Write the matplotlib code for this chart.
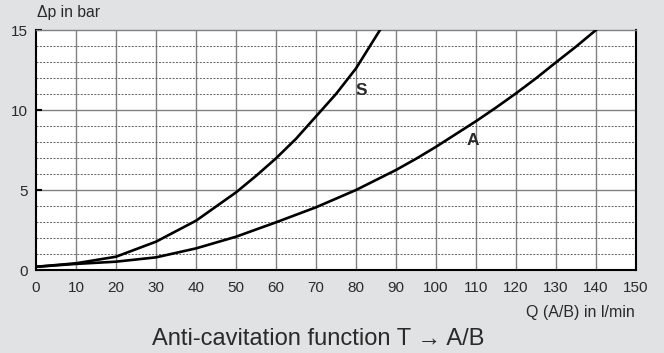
import numpy as np
import matplotlib.pyplot as plt

plt.rcParams['font.family'] = ['Liberation Sans', 'DejaVu Sans']

q_s = [0, 10, 20, 30, 40, 50, 55, 60, 65, 70, 75, 80, 83, 86]
p_s = [0.2, 0.42, 0.83, 1.77, 3.08, 4.85, 5.88, 6.98, 8.2, 9.6, 11.0, 12.6, 13.8, 15.0]
q_a = [0, 10, 20, 30, 40, 50, 60, 70, 80, 90, 95, 100, 105, 110, 115, 120, 125, 130, 135, 140]
p_a = [0.2, 0.38, 0.52, 0.79, 1.35, 2.08, 2.98, 3.92, 5.0, 6.25, 6.95, 7.7, 8.5, 9.3,
       10.15, 11.04, 11.98, 12.98, 13.96, 15.0]

x_ticks = list(range(0, 151, 10))
y_ticks = [0, 5, 10, 15]

bg = '#e1e2e4'
txt = '#2a2a2a'
fig = plt.figure(figsize=(6.64, 3.53), dpi=100, facecolor=bg)
ax = fig.add_axes([36/664, 83/353, 600/664, 240/353])
ax.set_facecolor('white')

ax.set_xlim(0, 150)
ax.set_ylim(0, 15)

# grid
for v in x_ticks[1:-1]:
    ax.axvline(v, color='#808080', lw=1.0, zorder=1)
for v in range(1, 15):
    if v % 5 == 0:
        ax.axhline(v, color='#808080', lw=1.0, zorder=1)
    else:
        ax.axhline(v, color='#606060', lw=0.7, ls=(0, (2, 1.5)), zorder=1)

ax.plot(q_s, p_s, color='black', lw=1.9, zorder=3, solid_joinstyle='round')
ax.plot(q_a, p_a, color='black', lw=1.9, zorder=3, solid_joinstyle='round')

ax.text(81.3, 11.2, 'S', fontsize=12.5, fontweight='bold', ha='center', va='center', color=txt)
ax.text(109.3, 8.1, 'A', fontsize=12.5, fontweight='bold', ha='center', va='center', color=txt)

for s in ['left', 'bottom', 'right']:
    ax.spines[s].set_color('black')
    ax.spines[s].set_linewidth(1.5)
ax.spines['top'].set_color('#808080')
ax.spines['top'].set_linewidth(1.0)

ax.set_xticks(x_ticks)
ax.set_yticks(y_ticks)
ax.tick_params(axis='x', length=0, pad=8, labelsize=11, colors=txt)
ax.tick_params(axis='y', direction='in', length=4, width=1.5, pad=6, labelsize=11,
               colors='black', labelcolor=txt)

fig.text(37/664, 1 - 13/353, '\u0394p in bar', fontsize=11.3, ha='left', va='center', color=txt)
fig.text(635/664, 1 - 313/353, 'Q (A/B) in l/min', fontsize=11.5, ha='right', va='center', color=txt)
fig.text(318/664, 1 - 339/353, 'Anti-cavitation function T \u2192 A/B', fontsize=17,
         ha='center', va='center', color=txt)

fig.savefig('out.png', dpi=100, facecolor=bg)
